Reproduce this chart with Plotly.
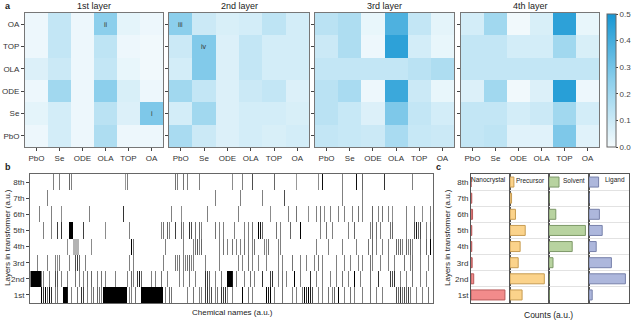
import plotly.graph_objects as go

# Heatmap axes
compuestos = ['PbO', 'Se', 'ODE', 'OLA', 'TOP', 'OA']
filas = ['OA', 'TOP', 'OLA', 'ODE', 'Se', 'PbO']

# Attention values per layer (rows top to bottom: OA, TOP, OLA, ODE, Se, PbO)
capa_1 = [[0.02, 0.12, 0.02, 0.25, 0.04, 0.02],
          [0.02, 0.12, 0.02, 0.13, 0.02, 0.01],
          [0.06, 0.10, 0.02, 0.12, 0.03, 0.01],
          [0.02, 0.20, 0.02, 0.25, 0.07, 0.02],
          [0.04, 0.08, 0.02, 0.14, 0.06, 0.28],
          [0.02, 0.08, 0.02, 0.17, 0.02, 0.02]]
capa_2 = [[0.25, 0.10, 0.07, 0.08, 0.13, 0.08],
          [0.10, 0.27, 0.06, 0.12, 0.08, 0.08],
          [0.08, 0.27, 0.06, 0.12, 0.08, 0.08],
          [0.20, 0.12, 0.06, 0.10, 0.12, 0.06],
          [0.08, 0.20, 0.06, 0.08, 0.08, 0.07],
          [0.18, 0.10, 0.06, 0.08, 0.07, 0.08]]
capa_3 = [[0.14, 0.17, 0.03, 0.38, 0.12, 0.04],
          [0.10, 0.17, 0.02, 0.45, 0.08, 0.03],
          [0.12, 0.12, 0.12, 0.12, 0.14, 0.17],
          [0.14, 0.18, 0.02, 0.42, 0.10, 0.03],
          [0.14, 0.11, 0.06, 0.28, 0.12, 0.08],
          [0.12, 0.11, 0.10, 0.18, 0.11, 0.10]]
capa_4 = [[0.08, 0.20, 0.01, 0.07, 0.45, 0.03],
          [0.12, 0.12, 0.08, 0.08, 0.20, 0.07],
          [0.12, 0.12, 0.12, 0.12, 0.12, 0.12],
          [0.06, 0.20, 0.01, 0.06, 0.46, 0.02],
          [0.12, 0.12, 0.08, 0.10, 0.20, 0.08],
          [0.12, 0.13, 0.05, 0.05, 0.28, 0.05]]
titulos_a = ['1st layer', '2nd layer', '3rd layer', '4th layer']

# Panel b: activated chemical names per layer, (column, intensity) or (start, end, intensity)
n_quimicos = 200
capas = ['1st', '2nd', '3rd', '4th', '5th', '6th', '7th', '8th']
b_8th = [(11, .5), (14, .5), (19, .6), (20, .5), (47, .4), (48, .5), (72, .55), (73, .5), (76, .55),
         (78, .5), (84, .5), (100, .45), (105, .5), (110, .7), (121, .6), (132, .4), (143, .45),
         (145, .95), (155, .5), (162, .95), (165, .6), (176, .8), (190, .5)]
b_7th = [(8, .5), (92, .5), (104, .5), (115, .5), (126, .7), (155, .5), (165, .5)]
b_6th = [(4, .5), (10, .5), (15, .45), (29, .5), (46, .8), (70, .5), (75, .45), (88, .5), (103, .5),
         (119, .45), (128, .5), (132, .55), (138, .45), (142, .5), (144, .55), (146, .45), (149, .5),
         (153, .5), (156, .5), (160, .5), (163, .55), (165, .5), (170, .6), (173, .5), (175, .55),
         (178, .5), (180, .45), (187, .5), (191, .5), (195, .45), (199, .5)]
b_5th = [(6, .5), (10, .5), (13, .75), (15, .8), (19, 20, 1), (26, .75), (37, .45), (49, .5), (65, .5),
         (66, .55), (68, .6), (69, .5), (72, .75), (75, .6), (76, .5), (79, .8), (80, .7), (82, .55),
         (84, .6), (85, .5), (92, .55), (94, .5), (96, .5), (101, .5), (106, .5), (108, .5), (110, .55),
         (113, 1), (114, .9), (115, .6), (122, .55), (124, .5), (129, .6), (134, 1), (144, .5), (147, .55),
         (150, .5), (158, .5), (161, .6), (169, .5), (170, .6), (172, .55), (174, .5), (179, .55),
         (180, .6), (187, .5), (191, .7), (192, .9), (193, .6), (194, .7), (197, .5), (199, .6)]
b_4th = [(18, .45), (21, 23, .3), (30, .45), (50, 1), (51, .55), (67, .5), (76, .5), (81, .5), (82, .55),
         (83, .65), (84, .5), (85, .6), (94, .5), (96, .55), (98, .5), (100, .55), (102, .5), (104, .5),
         (106, .55), (108, .5), (110, .5), (111, .55), (116, .5), (117, .45), (118, .55), (123, .5),
         (124, .5), (142, .5), (148, .5), (155, .5), (162, .5), (168, .55), (170, .6), (172, .5),
         (175, .5), (178, .5), (182, .6), (183, .55), (184, .6), (185, .5), (187, .6), (188, .5),
         (189, .6), (190, .5), (194, .55), (197, .6), (199, 1)]
b_3rd = [(3, .5), (8, .5), (12, .5), (13, .45), (14, .5), (19, .5), (22, .7), (23, .75), (24, .6), (27, .5),
         (49, .5), (51, .5), (66, .5), (72, .55), (73, .5), (74, .55), (76, .5), (77, .5), (78, .55),
         (79, .6), (80, .5), (81, .5), (87, .5), (94, .5), (103, .5), (105, .5), (108, .55), (110, .5),
         (113, .5), (117, .5), (123, .5), (125, .5), (130, .55), (134, .5), (137, .5), (141, .5),
         (143, .55), (145, .5), (152, .5), (156, .5), (159, .5), (163, .5), (165, .5), (169, .55),
         (170, .5), (174, .5), (178, .5), (181, .5), (186, .55), (189, .5), (190, .55), (194, .5), (198, .5)]
b_2nd = [(0, 4, 1), (5, .55), (6, .5), (9, .5), (12, .7), (13, .65), (15, .5), (18, .5), (22, .55),
         (24, .5), (26, .5), (28, .55), (30, .6), (33, .5), (35, .55), (37, .5), (42, .5), (48, .5),
         (50, .6), (51, .5), (53, .75), (54, .9), (55, .6), (60, .5), (62, .5), (65, .55), (68, .5),
         (74, .5), (76, .5), (79, .55), (82, .5), (87, .8), (88, .75), (89, .6), (92, .5), (95, .55),
         (98, 99, 1), (100, .9), (102, .5), (106, .5), (109, .55), (111, .5), (115, .8), (119, .75),
         (120, .8), (123, .5), (125, .55), (127, .5), (131, 1), (134, .5), (139, .8), (142, .5),
         (145, .5), (149, .5), (152, .5), (155, .55), (158, .5), (161, 1), (164, .5), (169, .55),
         (173, .8), (179, .75), (180, .7), (181, .8), (184, .5), (187, .5), (190, .55), (194, .5), (197, .5)]
b_1st = [(5, 1), (6, .8), (7, 1), (8, .6), (9, 1), (10, .8), (12, .5), (13, .55), (16, 17, 1), (18, .9),
         (20, .5), (23, .55), (25, .8), (26, .75), (28, .5), (30, .5), (31, .55), (33, .6), (34, .55),
         (35, .5), (36, 47, 1), (49, .5), (50, .5), (52, .55), (55, 65, 1), (67, .5), (69, .6), (70, .55),
         (78, .5), (81, .55), (84, .5), (85, .5), (87, .75), (88, .8), (89, .6), (90, .7), (92, .5),
         (93, .55), (95, .8), (96, .75), (97, .8), (98, .5), (100, .5), (105, 1), (108, .55), (110, .5),
         (117, 1), (118, .9), (119, 1), (121, .5), (125, .55), (130, .5), (132, .5), (135, .55),
         (136, 1), (137, .8), (138, 1), (139, .9), (140, .7), (143, .5), (145, .5), (148, .55), (150, .5),
         (151, .6), (153, 1), (156, .5), (159, .55), (161, .5), (165, .5), (169, .55), (172, .5),
         (175, .5), (182, .7), (183, .6), (184, .8), (185, .55), (186, .7), (187, .6), (188, .75),
         (189, .5), (192, .5), (195, .5), (198, .55)]
filas_b = [b_1st, b_2nd, b_3rd, b_4th, b_5th, b_6th, b_7th, b_8th]

# Panel c: counts per layer (1st..8th)
nanocrystal = [87, 7, 3, 2, 2, 4, 2, 0]
precursor = [31, 88, 21, 26, 39, 14, 4, 10]
solvent = [0, 0, 10, 58, 91, 17, 0, 25]
ligand = [8, 91, 56, 18, 33, 26, 0, 24]
grupos_c = ['Nanocrystal', 'Precursor', 'Solvent', 'Ligand']
relleno_c = ['#f28b8b', '#fbd38b', '#b8d3a0', '#adb7dc']
borde_c = ['#b85a5a', '#c79c52', '#7d9868', '#7781aa']

fuente = 'Liberation Sans, Arial, sans-serif'
W, H = 640, 324

def px_x(a, b):
    return [a / W, b / W]

def px_y(a, b):
    return [1 - b / H, 1 - a / H]

def texto(t, x, y, size=8, angle=0, xanchor='center'):
    return dict(text=t, x=x / W, y=1 - y / H, xref='paper', yref='paper', xanchor=xanchor,
                yanchor='middle', textangle=angle, showarrow=False, font=dict(size=size, color='#222'))

fig = go.Figure()
layout = {}

# Panel a: four heatmaps
escala = [[0, '#f5fbfd'], [0.5, '#8ccfec'], [1, '#1596d3']]
dom_a = [px_x(25, 163), px_x(169, 309), px_x(315, 454), px_x(461, 599)]
ydom_a = px_y(13, 147)
for i, z in enumerate([capa_1, capa_2, capa_3, capa_4]):
    n = i + 1
    fig.add_trace(go.Heatmap(
        z=z, x=compuestos, y=filas, xaxis='x%d' % n, yaxis='y%d' % n,
        colorscale=escala, zmin=0, zmax=0.5, showscale=(n == 4),
        colorbar=dict(x=607 / W, xanchor='left', thickness=9, len=133 / H, lenmode='fraction',
                      y=1 - 80.5 / H, yanchor='middle', outlinewidth=1, outlinecolor='#666',
                      xpad=0, ypad=0,
                      tickvals=[0, 0.1, 0.2, 0.3, 0.4, 0.5],
                      ticktext=['0.0', '0.1', '0.2', '0.3', '0.4', '0.5'],
                      ticks='outside', ticklen=2, tickfont=dict(size=8, color='#444')),
        hoverinfo='skip'))
    layout['xaxis%d' % n] = dict(domain=dom_a[i], anchor='y%d' % n, showline=True, mirror=True,
                                 linecolor='#777', linewidth=1, ticks='outside', ticklen=3,
                                 tickfont=dict(size=8, color='#333'), showgrid=False, automargin=False)
    layout['yaxis%d' % n] = dict(domain=ydom_a, anchor='x%d' % n, autorange='reversed', showline=True,
                                 mirror=True, linecolor='#777', linewidth=1, ticks='outside', ticklen=3,
                                 showticklabels=(n == 1), tickfont=dict(size=8, color='#333'),
                                 showgrid=False, automargin=False)

# Panel b: barcode of chemical names (drawn at double resolution so single names are thin)
z_b = []
for fila in filas_b:
    valores = [0.0] * (2 * n_quimicos)
    for e in fila:
        if len(e) == 2:
            valores[2 * e[0]] = e[1]
        else:
            for c in range(2 * e[0], 2 * e[1] + 2):
                valores[c] = e[2]
    z_b.append(valores)
fig.add_trace(go.Heatmap(z=z_b, x=[c / 2 for c in range(2 * n_quimicos)], y=capas, xaxis='x5', yaxis='y5',
                         colorscale=[[0, 'white'], [1, 'black']], zmin=0, zmax=1,
                         showscale=False, hoverinfo='skip'))
layout['xaxis5'] = dict(domain=px_x(30, 433), anchor='y5', showline=True, mirror=True, linecolor='#666',
                        showticklabels=False, ticks='', showgrid=False, range=[-0.5, n_quimicos],
                        automargin=False)
layout['yaxis5'] = dict(domain=px_y(174, 303), anchor='x5', showline=True, mirror=True, linecolor='#666',
                        ticks='outside', ticklen=3, tickfont=dict(size=8, color='#333'), showgrid=False,
                        automargin=False)

# Panel c: counts bars
dom_c = [px_x(471, 510), px_x(510, 549), px_x(549, 589), px_x(589, 629)]
for i, vals in enumerate([nanocrystal, precursor, solvent, ligand]):
    n = i + 6
    fig.add_trace(go.Bar(x=vals, y=capas, orientation='h', xaxis='x%d' % n, yaxis='y%d' % n,
                         marker=dict(color=relleno_c[i], line=dict(color=borde_c[i], width=1)),
                         width=0.62, showlegend=False, hoverinfo='skip'))
    layout['xaxis%d' % n] = dict(domain=dom_c[i], anchor='y%d' % n, range=[0, 100], showline=True,
                                 mirror=True, linecolor='#555', showticklabels=False, ticks='',
                                 showgrid=False, zeroline=False, automargin=False)
    layout['yaxis%d' % n] = dict(domain=px_y(174, 303), anchor='x%d' % n, showline=True, mirror=True,
                                 linecolor='#555', tickson='boundaries', showgrid=True,
                                 gridcolor='#e2e2e2', ticks='', showticklabels=(n == 6),
                                 tickfont=dict(size=8, color='#333'), automargin=False)

# Text annotations
anot = []
for i, t in enumerate(titulos_a):
    anot.append(texto(t, (dom_a[i][0] + dom_a[i][1]) / 2 * W, 6, size=9))
for letra, x, y in [('a', 3, 6), ('b', 3, 167), ('c', 434, 167)]:
    anot.append(texto('<b>%s</b>' % letra, x, y, size=9, xanchor='left'))
for txt, xr, yr, cx, cy in [('ii', 'x1', 'y1', 'OLA', 'OA'), ('i', 'x1', 'y1', 'OA', 'Se'),
                             ('iii', 'x2', 'y2', 'PbO', 'OA'), ('iv', 'x2', 'y2', 'Se', 'TOP')]:
    anot.append(dict(text=txt, x=cx, y=cy, xref=xr, yref=yr, showarrow=False,
                     font=dict(size=7, color='#333')))
for i, g in enumerate(grupos_c):
    a = texto(g, dom_c[i][1] * W - 2, 180, size=6.5, xanchor='right')
    anot.append(a)
anot += [
    texto('Layers in transformer (a.u.)', 7, 238, angle=-90),
    texto('Chemical names (a.u.)', 232, 312),
    texto('Layers in transformer (a.u.)', 447, 238, angle=-90),
    texto('Counts (a.u.)', 548, 315, size=8.5),
]

fig.update_layout(width=W, height=H, margin=dict(l=0, r=0, t=0, b=0), paper_bgcolor='white',
                  plot_bgcolor='white', font=dict(family=fuente, size=8, color='#333'),
                  showlegend=False, annotations=anot, bargap=0.35, **layout)

# The page body has a default margin; remove it so the figure sits at the window corner
fig.write_html('out.html', config={'displayModeBar': False},
               post_script="document.body.style.margin='0';")
